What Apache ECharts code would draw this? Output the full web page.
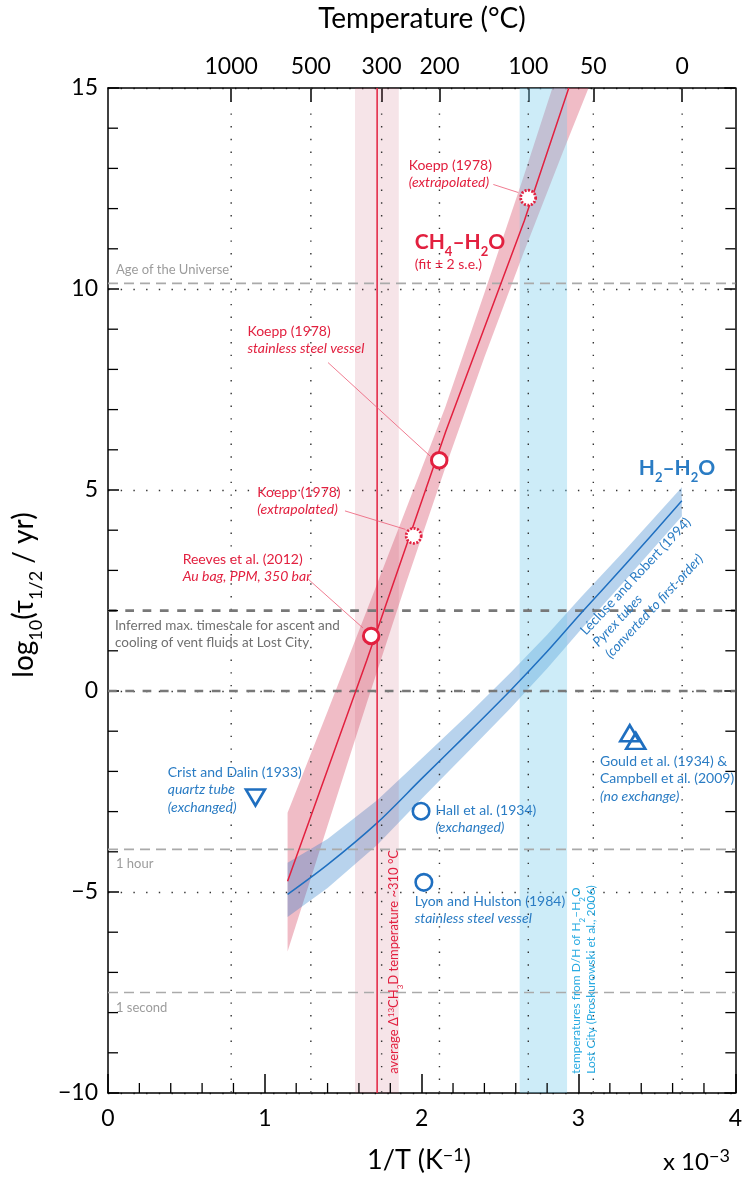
<!DOCTYPE html>
<html>
<head>
<meta charset="utf-8">
<title>Exchange half-lives, CH4–H2O and H2–H2O</title>
<script src="https://cdn.jsdelivr.net/npm/echarts@6.0.0/dist/echarts.min.js"></script>
<style>
  html, body { margin: 0; padding: 0; background: #ffffff; }
  #chart { width: 745px; height: 1177px; }
</style>
</head>
<body>
<div id="chart"></div>
<script>
// ---- axes -------------------------------------------------------------
const xTicks = [0, 1, 2, 3, 4];                    // 1/T in units of 1e-3 K^-1
const yTicks = [-10, -5, 0, 5, 10, 15];            // log10(half-life / yr)
const tempTicksC = [1000, 500, 300, 200, 100, 50, 0];
const xMinorStep = 0.2;
const yMinorStep = 1;

// ---- CH4–H2O exchange: fit and ±2 s.e. envelope -------------------------
const ch4FitX = [1.145, 1.649, 2.154, 2.654, 2.938];
const ch4FitY = [-4.73, 0.75, 6.46, 11.69, 15.0];
const ch4BandX = [1.145, 1.4, 1.65, 1.9, 2.15, 2.4, 2.65, 2.9, 3.1, 3.2];
const ch4BandUpper = [-3.03, -0.51, 2.0, 4.52, 7.05, 9.9, 12.8, 15.8, 18.25, 19.45];
const ch4BandLower = [-6.48, -3.35, -0.3, 2.68, 5.55, 8.3, 10.9, 13.4, 15.35, 16.35];

// ---- H2–H2O exchange (Lécluse and Robert 1994, first-order) -------------
const h2FitX = [1.145, 1.4, 1.716, 2.0, 2.3, 2.563, 2.8, 3.02, 3.3, 3.659];
const h2FitY = [-5.06, -4.32, -3.28, -2.18, -1.03, 0, 0.98, 1.95, 3.15, 4.73];
const h2BandUpper = [-4.27, -3.68, -2.72, -1.68, -0.57, 0.44, 1.4, 2.35, 3.52, 5.07];
const h2BandLower = [-5.62, -4.9, -3.83, -2.68, -1.49, -0.44, 0.56, 1.55, 2.76, 4.35];

// ---- experiments ---------------------------------------------------------
const ch4Measured = [[1.678, 1.37], [2.112, 5.74]];        // Reeves 2012, Koepp 1978
const ch4Extrapolated = [[1.949, 3.86], [2.679, 12.27]];   // Koepp 1978
const h2Circles = [[1.996, -2.99], [2.014, -4.76]];        // Hall 1934, Lyon & Hulston 1984
const h2DownTriangles = [[0.94, -2.65]];                   // Crist and Dalin 1933
const h2UpTriangles = [[3.327, -1.05], [3.365, -1.24]];    // Gould 1934, Campbell 2009

// ---- temperature windows (1/T) -------------------------------------------
const clumpedWindow = [1.575, 1.854];
const clumpedMean = 1.716;
const ventWindow = [2.625, 2.927];

// ---- reference timescales (log10 yr) -------------------------------------
const darkRefLines = [2, 0];                 // max. vent-fluid timescale, 1 yr
const lightRefLines = [10.14, -3.94, -7.5];  // age of Universe, 1 hour, 1 second

// --------------------------------------------------------------------------
const FONT = 'Lato, "Open Sans", "DejaVu Sans", sans-serif';
const RED = '#e2203f';
const BLUE = '#1f6fc0';
const BLUE_TXT = '#2a7cc4';
const CYAN = '#29abe2';

const xMin = xTicks[0], xMax = xTicks[xTicks.length - 1];
const yMin = yTicks[0], yMax = yTicks[yTicks.length - 1];
const tempPos = tempTicksC.map(c => 1000 / (c + 273.15));
const zip = (xs, ys) => xs.map((x, i) => [x, ys[i]]);
const isWhole = (v, step) => Math.abs(v / step - Math.round(v / step)) < 1e-6;

// minor tick positions between the labelled ticks
const xMinor = [];
for (let k = 1; k * xMinorStep < xMax - 1e-9; k++) {
  const v = +(k * xMinorStep).toFixed(6);
  if (!isWhole(v, 1)) xMinor.push(v);
}
const yMinor = [];
for (let v = yMin + yMinorStep; v < yMax; v += yMinorStep) {
  if (!isWhole(v, 5)) yMinor.push(v);
}

function bandSeries(xs, up, lo, fill, z) {
  return {
    type: 'custom', z, silent: true, clip: true, data: [[xs[0], up[0]]],
    renderItem(params, api) {
      const top = xs.map((x, i) => api.coord([x, up[i]]));
      const bot = xs.map((x, i) => api.coord([x, lo[i]])).reverse();
      return { type: 'polygon', shape: { points: top.concat(bot) }, style: { fill } };
    }
  };
}

function columnSeries(range, fill, z) {
  return {
    type: 'custom', z, silent: true, data: [range],
    renderItem(params, api) {
      const p0 = api.coord([api.value(0), yMax]);
      const p1 = api.coord([api.value(1), yMin]);
      return { type: 'rect', shape: { x: p0[0], y: p0[1], width: p1[0] - p0[0], height: p1[1] - p0[1] }, style: { fill } };
    }
  };
}

function hLineSeries(values, stroke, width, dash, z) {
  return {
    type: 'custom', z, silent: true, data: values.map(v => [v]),
    renderItem(params, api) {
      const y = api.value(0);
      const a = api.coord([xMin, y]), b = api.coord([xMax, y]);
      return { type: 'line', shape: { x1: a[0], y1: a[1], x2: b[0], y2: b[1] },
               style: { stroke, lineWidth: width, lineDash: dash } };
    }
  };
}

function vLineSeries(values, stroke, width, dash, z) {
  return {
    type: 'custom', z, silent: true, data: values.map(v => [v]),
    renderItem(params, api) {
      const x = api.value(0);
      const a = api.coord([x, yMax]), b = api.coord([x, yMin]);
      return { type: 'line', shape: { x1: a[0], y1: a[1], x2: b[0], y2: b[1] },
               style: { stroke, lineWidth: width, lineDash: dash } };
    }
  };
}

// inward minor ticks on the frame
function xMinorTickSeries(values, len) {
  return {
    type: 'custom', z: 8, silent: true, clip: false, data: values.map(v => [v]),
    renderItem(params, api) {
      const p = api.coord([api.value(0), yMin]);
      return { type: 'line', shape: { x1: p[0], y1: p[1], x2: p[0], y2: p[1] - len },
               style: { stroke: '#000', lineWidth: 1.3 } };
    }
  };
}
function yMinorTickSeries(values, len) {
  return {
    type: 'custom', z: 8, silent: true, clip: false, data: values.map(v => [v]),
    renderItem(params, api) {
      const l = api.coord([xMin, api.value(0)]);
      const r = api.coord([xMax, api.value(0)]);
      return { type: 'group', children: [
        { type: 'line', shape: { x1: l[0], y1: l[1], x2: l[0] + len, y2: l[1] }, style: { stroke: '#000', lineWidth: 1.3 } },
        { type: 'line', shape: { x1: r[0], y1: r[1], x2: r[0] - len, y2: r[1] }, style: { stroke: '#000', lineWidth: 1.3 } }
      ] };
    }
  };
}

const minus = v => (v < 0 ? '\u2212' + Math.abs(v) : String(v));
const axisLineStyle = { color: '#000', width: 1.5 };

const chart = echarts.init(document.getElementById('chart'), null, { renderer: 'canvas' });

chart.setOption({
  animation: false,
  backgroundColor: '#ffffff',
  grid: { left: 108, right: 7, top: 88, bottom: 84, containLabel: false },
  xAxis: [
    {
      type: 'value', position: 'bottom', min: xMin, max: xMax, interval: 1,
      axisLine: { onZero: false, lineStyle: axisLineStyle },
      axisTick: { inside: true, length: 19, lineStyle: { color: '#000', width: 1.5 } },
      axisLabel: { fontFamily: FONT, fontSize: 23, color: '#000', margin: 14 },
      splitLine: { show: false }
    },
    {
      type: 'value', position: 'top', min: xMin, max: xMax,
      axisLine: { onZero: false, lineStyle: axisLineStyle },
      axisTick: { inside: true, length: 14, customValues: tempPos, lineStyle: { color: '#000', width: 1.5 } },
      axisLabel: {
        fontFamily: FONT, fontSize: 23, color: '#000', margin: 10, customValues: tempPos,
        formatter: v => {
          let best = 0;
          tempPos.forEach((p, i) => { if (Math.abs(p - v) < Math.abs(tempPos[best] - v)) best = i; });
          return String(tempTicksC[best]);
        }
      },
      splitLine: { show: false }
    }
  ],
  yAxis: [
    {
      type: 'value', position: 'left', min: yMin, max: yMax, interval: 5,
      axisLine: { onZero: false, lineStyle: axisLineStyle },
      axisTick: { inside: true, length: 11, lineStyle: { color: '#000', width: 1.5 } },
      axisLabel: { fontFamily: FONT, fontSize: 23, color: '#000', margin: 10, formatter: minus },
      splitLine: { show: true, lineStyle: { color: '#333', width: 1.4, type: [1.4, 11.3] } }
    },
    {
      type: 'value', position: 'right', min: yMin, max: yMax, interval: 5,
      axisLine: { onZero: false, lineStyle: axisLineStyle },
      axisTick: { inside: true, length: 11, lineStyle: { color: '#000', width: 1.5 } },
      axisLabel: { show: false },
      splitLine: { show: false }
    }
  ],
  series: [
    bandSeries(ch4BandX, ch4BandUpper, ch4BandLower, 'rgba(214,70,98,0.36)', 2),
    bandSeries(h2FitX, h2BandUpper, h2BandLower, 'rgba(40,120,200,0.33)', 2),
    columnSeries(clumpedWindow, 'rgba(195,75,102,0.15)', 3),
    columnSeries(ventWindow, 'rgba(112,201,235,0.35)', 3),
    vLineSeries(tempPos, '#333', 1.4, [1.4, 11.3], 4),
    hLineSeries(lightRefLines, '#aaaaaa', 1.7, [10, 6], 4),
    hLineSeries(darkRefLines, '#787878', 2.6, [8.7, 8.6], 4),
    xMinorTickSeries(xMinor, 10),
    yMinorTickSeries(yMinor, 10),
    {
      name: 'CH4–H2O fit', type: 'line', z: 5, clip: true, silent: true,
      data: zip(ch4FitX, ch4FitY), showSymbol: false,
      lineStyle: { color: RED, width: 1.5 }
    },
    {
      name: 'H2–H2O fit', type: 'line', z: 5, clip: true, silent: true, smooth: 0.3,
      data: zip(h2FitX, h2FitY), showSymbol: false,
      lineStyle: { color: BLUE, width: 1.5 }
    },
    {
      name: 'mean clumped temperature', type: 'line', z: 5, silent: true,
      data: [[clumpedMean, yMin], [clumpedMean, yMax]], showSymbol: false,
      lineStyle: { color: RED, width: 1.5 }
    },
    {
      type: 'scatter', z: 6, silent: true, data: ch4Measured, symbol: 'circle', symbolSize: 15.5,
      itemStyle: { color: '#fff', borderColor: RED, borderWidth: 3, opacity: 1 }
    },
    {
      type: 'scatter', z: 6, silent: true, data: ch4Extrapolated, symbol: 'circle', symbolSize: 15,
      itemStyle: { color: '#fff', borderColor: RED, borderWidth: 2.8, borderType: [2, 1.5], opacity: 1 }
    },
    {
      type: 'scatter', z: 6, silent: true, data: h2Circles, symbol: 'circle', symbolSize: 16.5,
      itemStyle: { color: '#fff', borderColor: BLUE, borderWidth: 2.6, opacity: 1 }
    },
    {
      type: 'scatter', z: 6, silent: true, data: h2DownTriangles, symbol: 'triangle', symbolRotate: 180,
      symbolSize: [19, 16], itemStyle: { color: '#fff', borderColor: BLUE, borderWidth: 2.6, opacity: 1 }
    },
    {
      type: 'scatter', z: 6, silent: true, data: h2UpTriangles, symbol: 'triangle',
      symbolSize: [19, 16], itemStyle: { color: 'rgba(255,255,255,0)', borderColor: BLUE, borderWidth: 2.6, opacity: 1 }
    }
  ]
});

// ---- text -----------------------------------------------------------------
// Rich-text token set with sub/superscripts placed by top padding.
function makeRich(F, color, o) {
  o = o || {};
  const LH = o.lh || Math.round(F * 1.25);
  const S = o.s || Math.round(F * 0.64);
  const weight = o.bold ? 'bold' : 'normal';
  const mainBase = LH / 2 + 0.35 * F;
  const Q = o.sup ? Math.max(0, Math.round(0.85 * S + F * 0.45 - mainBase)) : 0;
  const P = Math.round(Q + mainBase + F * 0.22 - 0.85 * S);
  const base = { fontFamily: FONT, color, fontWeight: weight, verticalAlign: 'top' };
  return {
    firstMid: Q + LH / 2,
    rich: {
      n: Object.assign({}, base, { fontSize: F, lineHeight: LH, padding: [Q, 0, 0, 0] }),
      i: Object.assign({}, base, { fontSize: F, lineHeight: LH, padding: [Q, 0, 0, 0], fontStyle: 'italic' }),
      sb: Object.assign({}, base, { fontSize: S, lineHeight: S, padding: [P, 0, 0, 0] }),
      sp: Object.assign({}, base, { fontSize: S, lineHeight: S, padding: [0, 0, 0, 0] })
    }
  };
}

function textAt(px, py, text, size, color, o) {
  o = o || {};
  const r = makeRich(size, color, o);
  return {
    type: 'text', x: px, y: py, rotation: (o.rot || 0) * Math.PI / 180, z: 100, silent: true,
    style: {
      text, rich: r.rich, x: 0, y: -r.firstMid,
      align: o.align || 'left', verticalAlign: 'top',
      fontFamily: FONT, fontSize: size, fill: color
    }
  };
}

// annotations anchored in data units (left edge, middle of the first line)
const notes = [
  { at: [0.051, 10.44], size: 13, color: '#9c9c9c', text: '{n|Age of the Universe}' },
  { at: [1.917, 13.03], size: 14, color: RED, lh: 17.5, text: '{n|Koepp (1978)}\n{i|(extrapolated)}' },
  { at: [1.956, 11.11], size: 21, color: RED, bold: true, text: '{n|CH}{sb|4}{n|\u2013H}{sb|2}{n|O}' },
  { at: [1.956, 10.57], size: 14, color: RED, text: '{n|(fit \u00b1 2 s.e.)}' },
  { at: [0.889, 8.9], size: 14, color: RED, lh: 17.5, text: '{n|Koepp (1978)}\n{i|stainless steel vessel}' },
  { at: [0.952, 4.9], size: 14, color: RED, lh: 17.5, text: '{n|Koepp (1978)}\n{i|(extrapolated)}' },
  { at: [0.476, 3.23], size: 14, color: RED, lh: 17.5, text: '{n|Reeves et al. (2012)}\n{i|Au bag, PPM, 350 bar}' },
  { at: [0.044, 1.59], size: 13.5, color: '#707070', lh: 17, text: '{n|Inferred max. timescale for ascent and}\n{n|cooling of vent fluids at Lost City}' },
  { at: [3.384, 5.49], size: 21, color: BLUE_TXT, bold: true, text: '{n|H}{sb|2}{n|\u2013H}{sb|2}{n|O}' },
  { at: [3.035, 1.42], size: 13.5, color: BLUE_TXT, lh: 17, rot: 47, text: '{n|L\u00e9cluse and Robert (1994)}\n{i|Pyrex tubes}\n{i|(converted to first-order)}' },
  { at: [0.381, -2.06], size: 14, color: BLUE_TXT, lh: 17.5, text: '{n|Crist and Dalin (1933)}\n{i|quartz tube}\n{i|(exchanged)}' },
  { at: [2.089, -3.01], size: 14, color: BLUE_TXT, lh: 17.5, text: '{n|Hall et al. (1934)}\n{i|(exchanged)}' },
  { at: [1.956, -5.27], size: 14, color: BLUE_TXT, lh: 17.5, text: '{n|Lyon and Hulston (1984)}\n{i|stainless steel vessel}' },
  { at: [3.137, -1.79], size: 14, color: BLUE_TXT, lh: 17.5, text: '{n|Gould et al. (1934) &}\n{n|Campbell et al. (2009)}\n{i|(no exchange)}' },
  { at: [0.051, -4.33], size: 13, color: '#9c9c9c', text: '{n|1 hour}' },
  { at: [0.051, -7.91], size: 13, color: '#9c9c9c', text: '{n|1 second}' },
  { at: [1.835, -9.52], size: 13, color: RED, rot: 90, sup: true, text: '{n|average \u0394}{sp|13}{n|CH}{sb|3}{n|D temperature ~310 \u00b0C}' },
  { at: [2.997, -9.52], size: 12, color: CYAN, lh: 15, rot: 90, text: '{n|temperatures from D/H of H}{sb|2}{n|\u2013H}{sb|2}{n|O}\n{n|Lost City (Proskurowski et al., 2006)}' }
];

// leader lines from labels to data points
const leaders = [
  [[2.457, 12.6], [2.616, 12.4]],
  [[1.403, 8.17], [2.055, 5.84]],
  [[1.511, 4.48], [1.897, 4.02]],
  [[1.274, 2.79], [1.625, 1.57]]
];

const toPx = p => chart.convertToPixel({ xAxisIndex: 0, yAxisIndex: 0 }, p);
const graphics = [];

leaders.forEach(([a, b]) => {
  const pa = toPx(a), pb = toPx(b);
  graphics.push({ type: 'line', z: 50, silent: true,
    shape: { x1: pa[0], y1: pa[1], x2: pb[0], y2: pb[1] },
    style: { stroke: '#ec5a75', lineWidth: 0.8 } });
});

notes.forEach(n => {
  const p = toPx(n.at);
  graphics.push(textAt(p[0], p[1], n.text, n.size, n.color, { lh: n.lh, bold: n.bold, rot: n.rot, sup: n.sup }));
});

// axis titles
graphics.push(textAt(422, 22, '{n|Temperature (\u00b0C)}', 28, '#000', { align: 'center' }));
graphics.push(textAt(419, 1164, '{n|1/T (K}{sp|\u22121}{n|)}', 27, '#000', { align: 'center', sup: true, s: 18 }));
graphics.push(textAt(663, 1165, '{n|x 10}{sp|\u22123}', 24, '#000', { sup: true, s: 18 }));
graphics.push(textAt(27, 595, '{n|log}{sb|10}{n|(\u03c4}{sb|1/2}{n| / yr)}', 28, '#000', { align: 'center', rot: 90 }));

chart.setOption({ graphic: { elements: graphics } });
</script>
</body>
</html>
